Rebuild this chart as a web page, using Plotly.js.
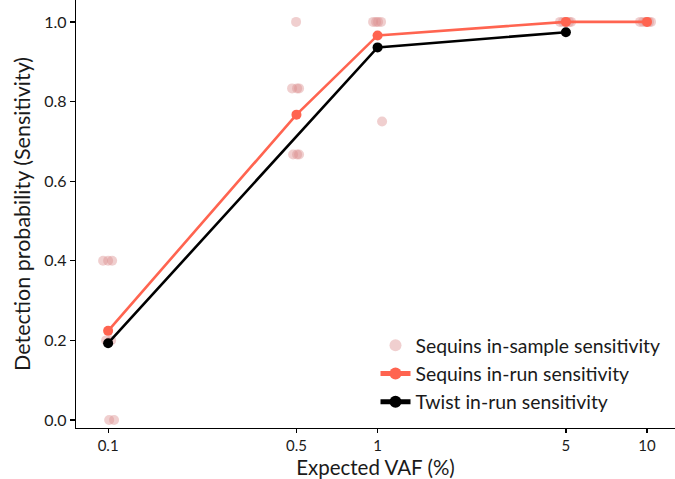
<!DOCTYPE html>
<html>
<head>
<meta charset="utf-8">
<script src="https://cdn.plot.ly/plotly-3.0.1.min.js"></script>
<style>html,body{margin:0;padding:0;background:#fff;}#chart{width:675px;height:479px;}</style>
</head>
<body>
<div id="chart"></div>
<script>
// Sequins in-sample sensitivity (individual samples, jittered x as read)
const sampleX = [0.0958, 0.1, 0.1035, 0.0983, 0.1026, 0.1009, 0.1052,
                 0.4984, 0.4816, 0.5027, 0.5113, 0.4858, 0.5027, 0.5113,
                 0.9623, 0.9873, 1.0043, 1.0304, 1.0392,
                 4.755, 4.879, 5.006, 5.136, 5.224,
                 9.420, 9.664, 9.915, 10.172, 10.348];
const sampleY = [0.4, 0.4, 0.4, 0.2, 0.2, 0.0, 0.0,
                 1.0, 0.833, 0.833, 0.833, 0.667, 0.667, 0.667,
                 1.0, 1.0, 1.0, 1.0, 0.75,
                 1.0, 1.0, 1.0, 1.0, 1.0,
                 1.0, 1.0, 1.0, 1.0, 1.0];
// Sequins in-run sensitivity
const sequinsRunX = [0.1, 0.5, 1, 5, 10];
const sequinsRunY = [0.224, 0.767, 0.966, 1.0, 1.0];
// Twist in-run sensitivity
const twistRunX = [0.1, 1, 5];
const twistRunY = [0.193, 0.936, 0.974];
// Axis ticks
const xTickVals = [0.1, 0.5, 1, 5, 10];
const xTickText = ["0.1", "0.5", "1", "5", "10"];
const yTickVals = [0, 0.2, 0.4, 0.6, 0.8, 1.0];

const FONT = "Lato, 'Open Sans', sans-serif";
const traces = [
  {x: sampleX, y: sampleY, mode: 'markers', type: 'scatter',
   name: 'Sequins in-sample sensitivity',
   marker: {size: 10, color: 'rgba(220,140,140,0.42)', line: {width: 0}}},
  {x: sequinsRunX, y: sequinsRunY, mode: 'lines+markers', type: 'scatter',
   name: 'Sequins in-run sensitivity',
   line: {color: '#ff6450', width: 2.6},
   marker: {size: 10, color: '#ff6450'}},
  {x: twistRunX, y: twistRunY, mode: 'lines+markers', type: 'scatter',
   name: 'Twist in-run sensitivity',
   line: {color: '#000000', width: 2.6},
   marker: {size: 10, color: '#000000'}}
];
const layout = {
  width: 675, height: 479,
  margin: {l: 76, r: 0, t: 0, b: 51},
  paper_bgcolor: '#fff', plot_bgcolor: '#fff',
  font: {family: FONT, color: '#1a1a1a', size: 15},
  showlegend: true,
  legend: {x: 0.5, xanchor: 'left', y: 0.238, yanchor: 'top',
           font: {size: 19.4, family: FONT, color: '#1a1a1a'},
           bgcolor: 'rgba(0,0,0,0)', tracegroupgap: 0, itemsizing: 'constant'},
  xaxis: {type: 'log', range: [Math.log10(0.0760), Math.log10(12.7)], automargin: false,
          tickvals: xTickVals, ticktext: xTickText,
          showgrid: false, zeroline: false, showline: true, linecolor: '#000', linewidth: 1.2,
          ticks: 'outside', ticklen: 4, tickwidth: 1.2, tickcolor: '#000',
          tickfont: {size: 15, family: FONT},
          title: {text: 'Expected VAF (%)', font: {size: 20.5, family: FONT}}},
  yaxis: {range: [-0.02, 1.055], tickvals: yTickVals, tickformat: '.1f', automargin: false,
          showgrid: false, zeroline: false, showline: true, linecolor: '#000', linewidth: 1.2,
          ticks: 'outside', ticklen: 5, tickwidth: 1.2, tickcolor: '#000',
          tickfont: {size: 16, family: FONT},
          title: {text: 'Detection probability (Sensitivity)', font: {size: 21.5, family: FONT}, standoff: 7}}
};
Plotly.newPlot('chart', traces, layout, {displayModeBar: false, staticPlot: true});
</script>
</body>
</html>
